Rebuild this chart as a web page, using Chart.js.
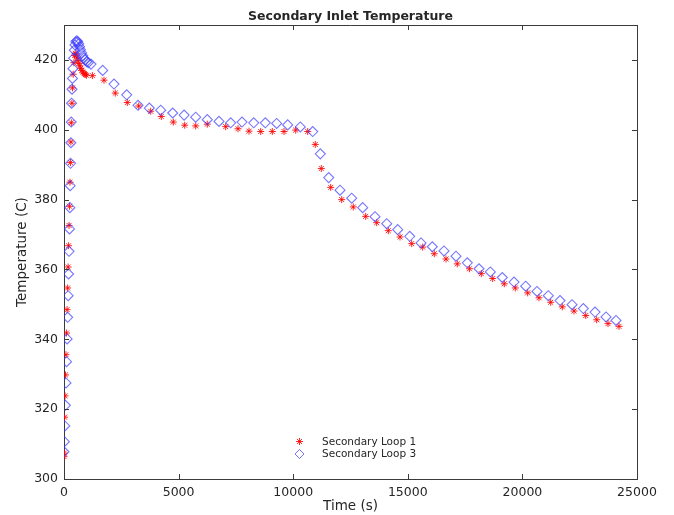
<!DOCTYPE html>
<html>
<head>
<meta charset="utf-8">
<script src="https://cdn.jsdelivr.net/npm/chart.js@4.4.1/dist/chart.umd.min.js"></script>
<style>
  html, body { margin: 0; padding: 0; background: #ffffff; }
  #wrap { width: 674px; height: 515px; }
</style>
</head>
<body>
<div id="wrap"><canvas id="c" width="674" height="515"></canvas></div>
<script>
// ---- Data ----
const chartTitle = "Secondary Inlet Temperature";
const xAxisTitle = "Time (s)";
const yAxisTitle = "Temperature (C)";
const seriesNames = ["Secondary Loop 1", "Secondary Loop 3"];

const xTickValues = [0, 5000, 10000, 15000, 20000, 25000];
const yTickValues = [300, 320, 340, 360, 380, 400, 420];

// Secondary Loop 1 (red stars)
const loop1Time = [
  0, 10, 25, 45, 65, 85, 110, 135, 160, 180, 200, 220, 240, 260, 280, 300, 320, 345, 370, 400, 430, 460, 490,
  530, 570, 610, 650, 690, 730, 780, 830, 880, 930, 980,
  1240, 1745, 2238, 2762, 3259, 3783, 4245, 4769, 5266, 5746, 6252, 7055, 7592, 8072, 8582, 9088, 9599, 10109, 10633,
  10964, 11226, 11636, 12116, 12622, 13163, 13643, 14150, 14660, 15170, 15650, 16156, 16667, 17160, 17690,
  18207, 18704, 19210, 19690, 20231, 20724, 21235, 21741, 22252, 22762, 23242, 23735, 24215
];
const loop1Temp = [
  306.4, 307.4, 317.7, 323.8, 329.8, 335.6, 341.8, 348.5, 354.7, 360.7, 366.8, 372.6, 378.1, 385.0, 390.6, 396.5, 402.0, 407.6, 412.0, 415.9, 419.2, 421.3, 421.9,
  421.4, 420.6, 419.8, 419.0, 418.3, 417.6, 417.0, 416.5, 416.1, 415.8, 415.6,
  415.5, 414.2, 410.5, 407.8, 406.8, 405.3, 403.8, 402.2, 401.3, 401.1, 401.6, 400.9, 400.3, 399.6, 399.5, 399.5, 399.5, 399.9, 399.5,
  395.8, 388.9, 383.5, 380.0, 377.9, 375.2, 373.4, 371.1, 369.3, 367.4, 366.4, 364.5, 363.0, 361.6, 360.2,
  358.8, 357.4, 355.9, 354.7, 353.3, 351.9, 350.6, 349.3, 348.1, 346.8, 345.6, 344.5, 343.7
];

// Secondary Loop 3 (blue diamonds)
const loop3Time = [
  0, 15, 35, 60, 85, 110, 135, 160, 180, 200, 220, 240, 255, 270, 285, 300, 315, 330, 350, 370, 390, 420, 450, 480,
  520, 560, 600, 640, 680, 720, 770, 820, 870, 920, 990, 1060,
  1178, 1688, 2181, 2736, 3229, 3722, 4219, 4743, 5240, 5746, 6252, 6763, 7273, 7766, 8277, 8783, 9280, 9760, 10310, 10851,
  11182, 11549, 12042, 12552, 13032, 13569, 14080, 14559, 15083, 15576, 16069, 16579, 17103, 17596,
  18107, 18600, 19123, 19634, 20144, 20637, 21130, 21641, 22165, 22658, 23168, 23648, 24085
];
const loop3Temp = [
  307.8, 310.7, 315.2, 321.1, 327.5, 333.6, 340.1, 346.3, 352.5, 358.7, 365.2, 371.6, 377.7, 384.0, 390.4, 396.3, 402.2, 407.6, 411.6, 414.7, 417.5, 420.5, 422.8, 424.3,
  425.2, 425.5, 425.2, 424.6, 423.8, 422.9, 422.0, 421.2, 420.5, 420.0, 419.5, 419.2,
  418.8, 417.0, 413.1, 410.0, 407.0, 406.2, 405.6, 404.8, 404.2, 403.6, 402.9, 402.4, 402.0, 402.2, 402.0, 402.0, 401.8, 401.4, 400.8, 399.5,
  393.1, 386.3, 382.7, 380.4, 377.7, 375.1, 373.1, 371.4, 369.5, 367.6, 366.5, 365.3, 363.8, 361.9,
  360.2, 359.3, 357.7, 356.4, 355.2, 353.7, 352.5, 351.1, 349.9, 348.8, 347.8, 346.4, 345.4
];

// ---- Styling ----
const FONT = "'DejaVu Sans', 'Liberation Sans', sans-serif";
const TEXT = "#262626";
const FRAME = "#3a3a3a";
const RED = "rgba(255,0,0,0.85)";
const BLUE = "rgba(60,60,255,0.7)";

const toPoints = (xs, ys) => xs.map((x, i) => ({ x: x, y: ys[i] }));

// Title, inward ticks on all four sides, top/right frame, legend inside the plot
const matlabFrame = {
  id: 'matlabFrame',
  afterDraw(chart) {
    const ctx = chart.ctx;
    const a = chart.chartArea;
    const xs = chart.scales.x, ys = chart.scales.y;
    ctx.save();
    ctx.strokeStyle = FRAME;
    ctx.lineWidth = 1;
    ctx.beginPath();
    ctx.moveTo(a.left, a.top + 0.5);
    ctx.lineTo(a.right + 0.5, a.top + 0.5);
    ctx.lineTo(a.right + 0.5, a.bottom);
    ctx.stroke();
    const tl = 5;
    ctx.beginPath();
    xs.ticks.forEach(t => {
      const px = Math.round(xs.getPixelForValue(t.value)) + 0.5;
      ctx.moveTo(px, a.bottom); ctx.lineTo(px, a.bottom - tl);
      ctx.moveTo(px, a.top); ctx.lineTo(px, a.top + tl);
    });
    ys.ticks.forEach(t => {
      const py = Math.round(ys.getPixelForValue(t.value)) + 0.5;
      ctx.moveTo(a.left, py); ctx.lineTo(a.left + tl, py);
      ctx.moveTo(a.right, py); ctx.lineTo(a.right - tl, py);
    });
    ctx.stroke();
    ctx.fillStyle = TEXT;
    ctx.font = "bold 12.5px " + FONT;
    ctx.textAlign = 'center';
    ctx.textBaseline = 'alphabetic';
    ctx.fillText(chartTitle, (a.left + a.right) / 2, 20);
    const lx = 299.5, ly = [441.5, 454];
    ctx.font = "10.5px " + FONT;
    ctx.textAlign = 'left';
    ctx.textBaseline = 'middle';
    const styles = [
      { style: 'star', color: RED, r: 3.5, w: 1 },
      { style: 'rectRot', color: BLUE, r: 4.5, w: 1 }
    ];
    seriesNames.forEach((name, i) => {
      ctx.strokeStyle = styles[i].color;
      ctx.fillStyle = 'rgba(0,0,0,0)';
      ctx.lineWidth = styles[i].w;
      Chart.helpers.drawPoint(ctx, { pointStyle: styles[i].style, radius: styles[i].r, borderWidth: styles[i].w, rotation: 0 }, lx, ly[i]);
      ctx.fillStyle = TEXT;
      ctx.fillText(name, 322, ly[i] + 0.5);
    });
    ctx.restore();
  }
};

new Chart(document.getElementById('c'), {
  type: 'scatter',
  data: {
    datasets: [
      {
        label: seriesNames[0],
        data: toPoints(loop1Time, loop1Temp),
        pointStyle: 'star',
        pointRadius: 3.5,
        pointBorderWidth: 1,
        borderColor: RED,
        backgroundColor: 'rgba(0,0,0,0)',
        order: 1
      },
      {
        label: seriesNames[1],
        data: toPoints(loop3Time, loop3Temp),
        pointStyle: 'rectRot',
        pointRadius: 5,
        pointBorderWidth: 1.1,
        borderColor: BLUE,
        backgroundColor: 'rgba(0,0,0,0)',
        order: 0
      }
    ]
  },
  options: {
    responsive: false,
    animation: false,
    devicePixelRatio: 1,
    layout: { padding: { top: 25, right: 37, bottom: 0, left: 0 } },
    plugins: {
      legend: { display: false },
      title: { display: false },
      tooltip: { enabled: false }
    },
    scales: {
      x: {
        type: 'linear',
        min: 0, max: 25000,
        afterBuildTicks: (s) => { s.ticks = xTickValues.map(v => ({ value: v })); },
        afterFit: (s) => { s.height = 36; },
        grid: { display: true, drawOnChartArea: false, drawTicks: false },
        border: { display: true, color: FRAME, width: 1 },
        ticks: {
          padding: 6,
          color: TEXT,
          font: { family: FONT, size: 12.5 },
          maxRotation: 0,
          callback: (v) => String(v)
        },
        title: {
          display: true,
          text: xAxisTitle,
          color: TEXT,
          font: { family: FONT, size: 13.5 },
          padding: { top: 0, bottom: 0 }
        }
      },
      y: {
        type: 'linear',
        min: 300, max: 430,
        afterBuildTicks: (s) => { s.ticks = yTickValues.map(v => ({ value: v })); },
        afterFit: (s) => { s.width = 64; },
        grid: { display: true, drawOnChartArea: false, drawTicks: false },
        border: { display: true, color: FRAME, width: 1 },
        ticks: {
          padding: 6,
          color: TEXT,
          font: { family: FONT, size: 12.5 },
          callback: (v) => String(v)
        },
        title: {
          display: true,
          text: yAxisTitle,
          color: TEXT,
          font: { family: FONT, size: 13.5 },
          padding: { top: 14, bottom: 0 }
        }
      }
    }
  },
  plugins: [matlabFrame]
});
</script>
</body>
</html>
